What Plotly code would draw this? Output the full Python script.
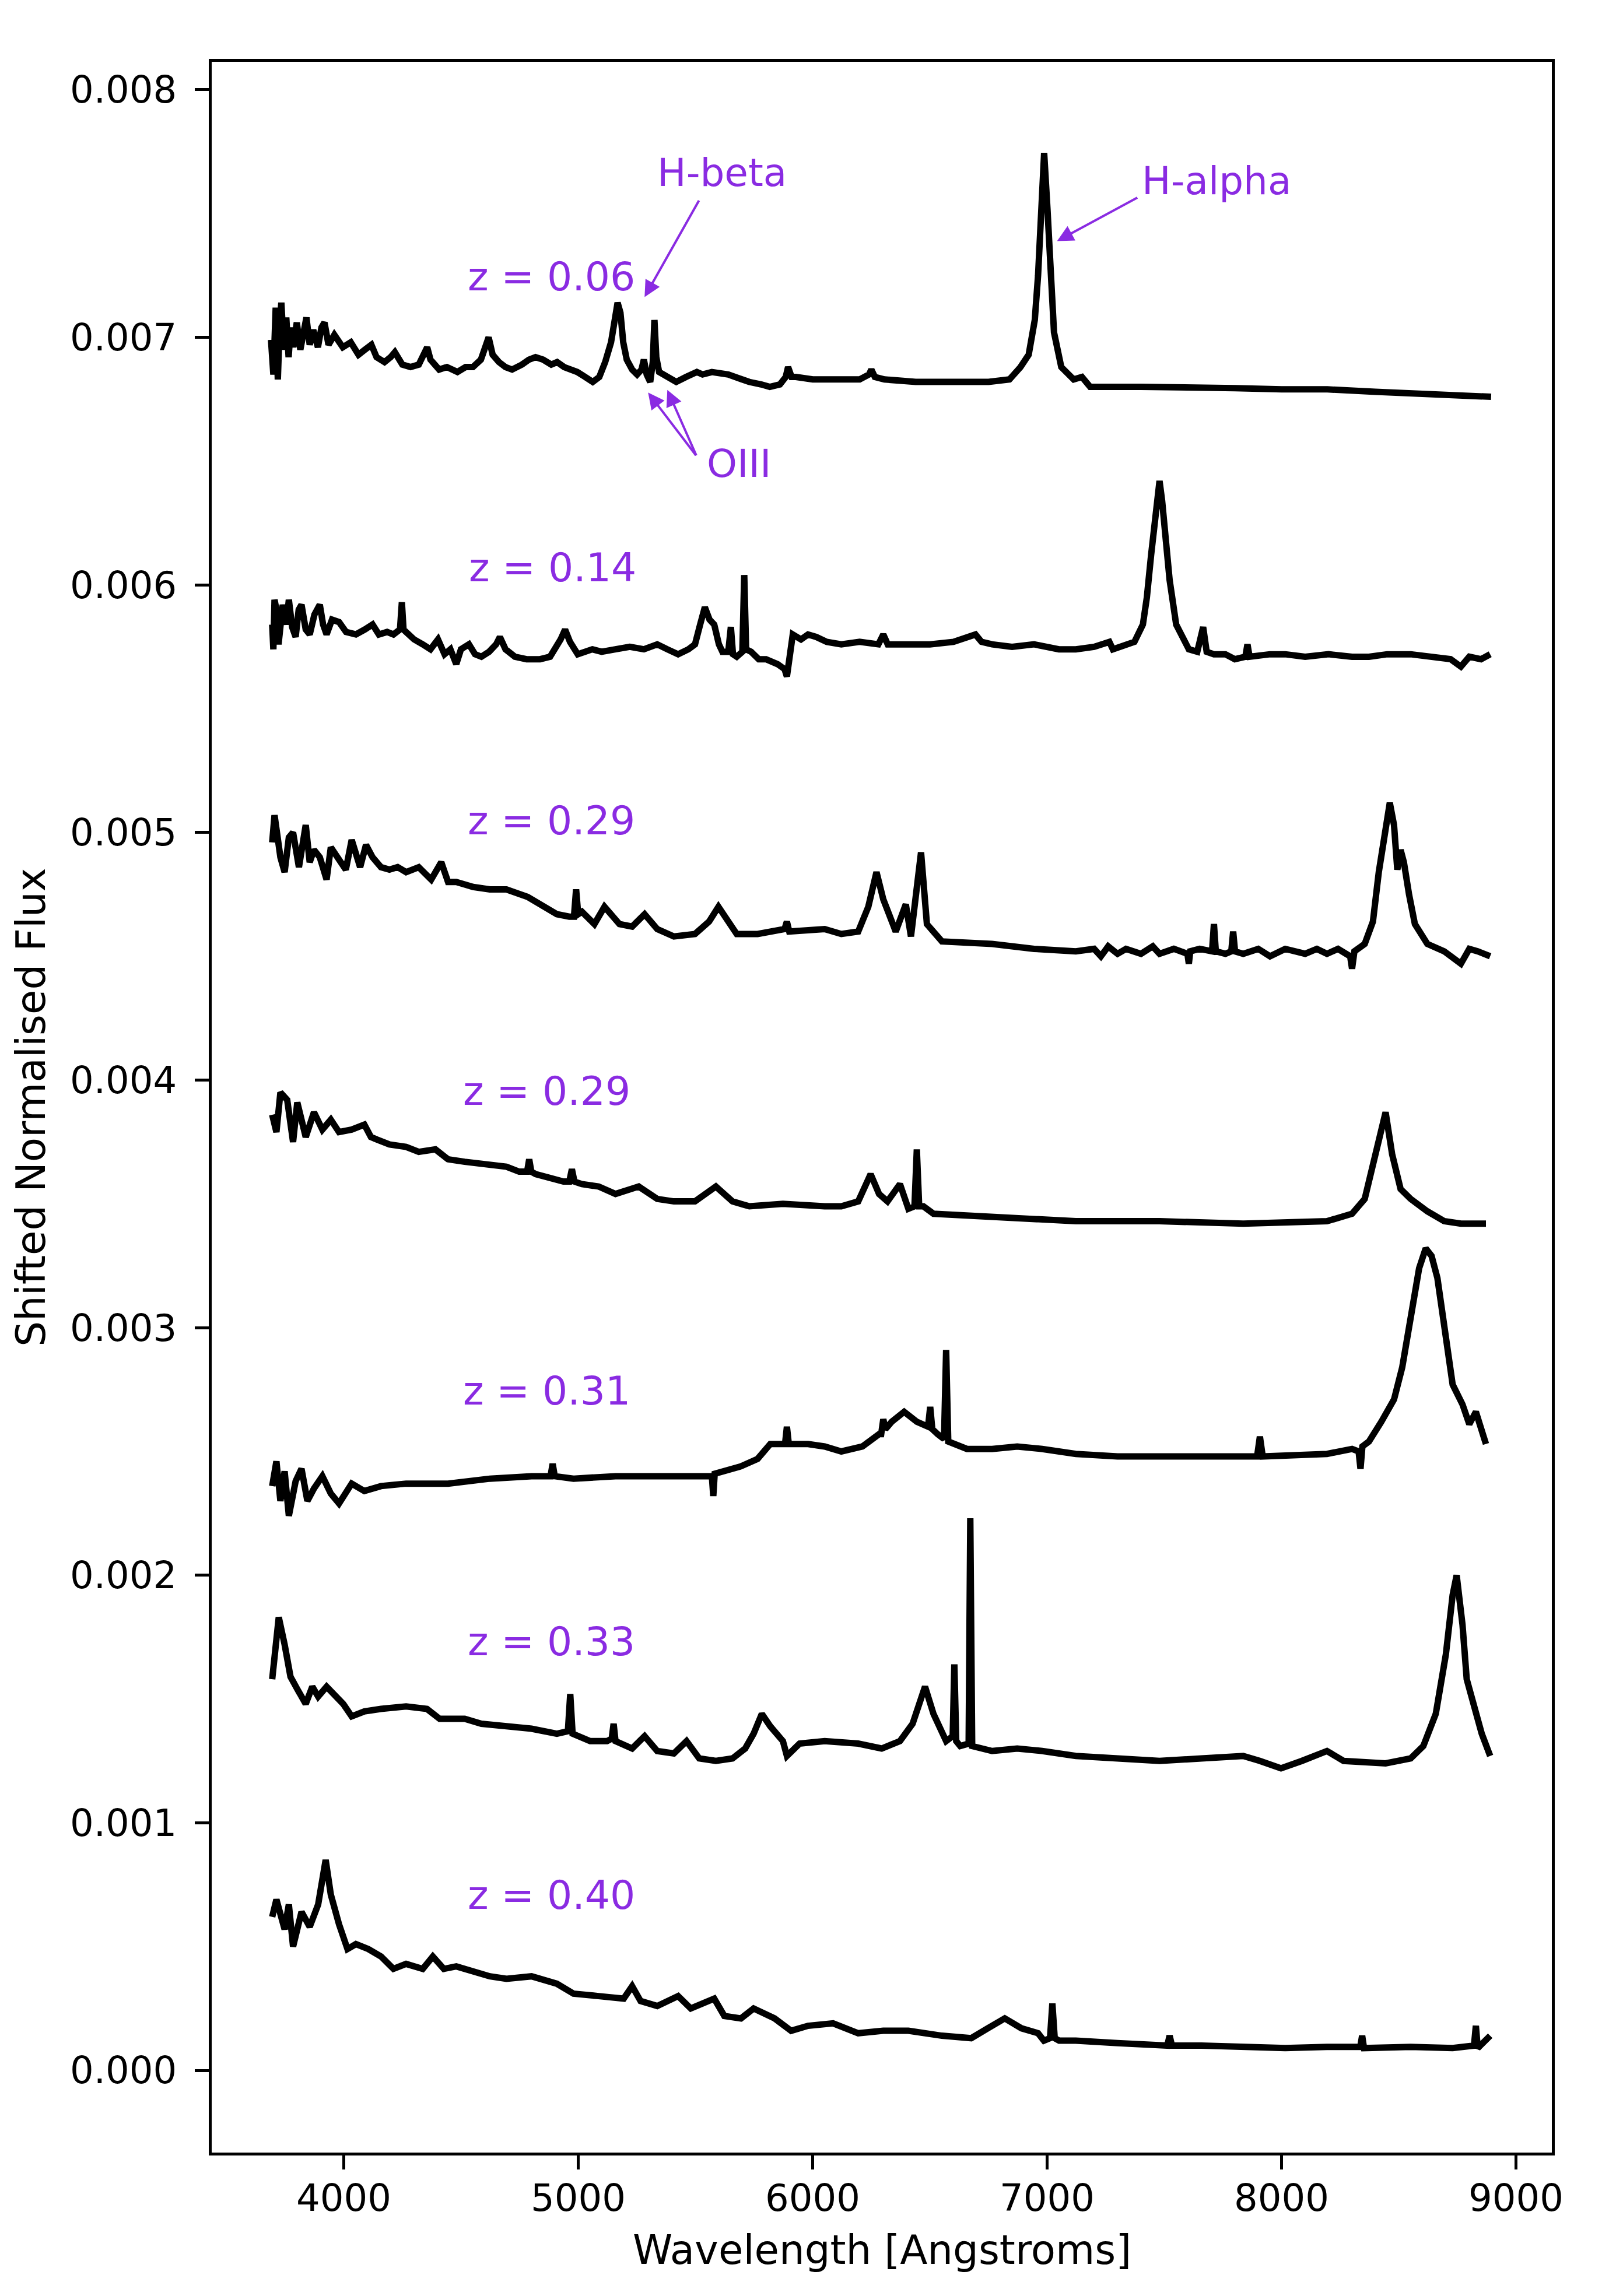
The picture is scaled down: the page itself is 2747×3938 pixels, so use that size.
import plotly.graph_objects as go

# ---------------- data ----------------
# each spectrum: list of (wavelength [Angstrom], shifted normalised flux)
spec_z006 = [
    (3690, 0.00699), (3700, 0.00685), (3710, 0.00712), (3719, 0.00683), (3727, 0.00705), (3734, 0.00714),
    (3745, 0.00695), (3755, 0.00708), (3765, 0.00692), (3774, 0.00704), (3785, 0.00696), (3800, 0.00706),
    (3815, 0.00695), (3830, 0.00705), (3841, 0.00708), (3855, 0.00697), (3870, 0.00703), (3890, 0.00696),
    (3905, 0.00704), (3918, 0.00706), (3935, 0.00697), (3960, 0.00701), (3996, 0.00696), (4030, 0.00698),
    (4063, 0.00693), (4090, 0.00695), (4118, 0.00697), (4140, 0.00692), (4174, 0.00690), (4200, 0.00692),
    (4218, 0.00694), (4250, 0.00689), (4285, 0.00688), (4320, 0.00689), (4345, 0.00693), (4356, 0.00696),
    (4370, 0.00691), (4407, 0.00687), (4440, 0.00688), (4485, 0.00686), (4520, 0.00688), (4551, 0.00688),
    (4585, 0.00691), (4605, 0.00696), (4618, 0.00700), (4635, 0.00693), (4662, 0.00690), (4690, 0.00688),
    (4718, 0.00687), (4760, 0.00689), (4790, 0.00691), (4818, 0.00692), (4850, 0.00691), (4885, 0.00689),
    (4910, 0.00690), (4940, 0.00688), (4970, 0.00687), (4996, 0.00686), (5030, 0.00684), (5062, 0.00682),
    (5090, 0.00684), (5115, 0.00690), (5140, 0.00698), (5155, 0.00708), (5168, 0.00714), (5180, 0.00710),
    (5192, 0.00698), (5207, 0.00691), (5230, 0.00687), (5251, 0.00685), (5270, 0.00687), (5280, 0.00691),
    (5292, 0.00685), (5307, 0.00682), (5318, 0.00690), (5325, 0.00707), (5333, 0.00692), (5345, 0.00686),
    (5362, 0.00685), (5390, 0.00683), (5418, 0.00682), (5460, 0.00684), (5506, 0.00686), (5530, 0.00685),
    (5570, 0.00686), (5640, 0.00685), (5690, 0.00683), (5729, 0.00682), (5780, 0.00681), (5817, 0.00680),
    (5860, 0.00681), (5885, 0.00684), (5895, 0.00688), (5910, 0.00684), (5928, 0.00684), (6000, 0.00683),
    (6106, 0.00683), (6200, 0.00683), (6240, 0.00685), (6250, 0.00687), (6265, 0.00684), (6306, 0.00683),
    (6439, 0.00682), (6600, 0.00682), (6750, 0.00682), (6839, 0.00683), (6886, 0.00688), (6921, 0.00693),
    (6947, 0.00707), (6961, 0.00725), (6973, 0.00752), (6987, 0.007745), (7001, 0.00752), (7013, 0.00725),
    (7029, 0.00702), (7060, 0.00688), (7113, 0.00683), (7148, 0.00684), (7183, 0.00680), (7400, 0.00680),
    (7584, 0.00680), (7800, 0.006795), (8000, 0.00679), (8195, 0.00679), (8400, 0.00678), (8600, 0.00677),
    (8893, 0.00676),
]

spec_z014 = [
    (3695, 0.00584), (3700, 0.00574), (3705, 0.00594), (3713, 0.00590), (3722, 0.00576), (3740, 0.00592),
    (3755, 0.00584), (3766, 0.00594), (3780, 0.00583), (3795, 0.00579), (3808, 0.00590), (3820, 0.00592),
    (3838, 0.00582), (3855, 0.00580), (3875, 0.00588), (3898, 0.00592), (3912, 0.00584), (3927, 0.00580),
    (3950, 0.00586), (3980, 0.00585), (4010, 0.00581), (4052, 0.00580), (4090, 0.00582), (4123, 0.00584),
    (4150, 0.00580), (4185, 0.00581), (4212, 0.00580), (4240, 0.00582), (4248, 0.00593), (4255, 0.00582),
    (4266, 0.00581), (4300, 0.00578), (4337, 0.00576), (4370, 0.00574), (4402, 0.00578), (4430, 0.00572),
    (4455, 0.00574), (4480, 0.00568), (4500, 0.00574), (4534, 0.00576), (4560, 0.00572), (4587, 0.00571),
    (4620, 0.00573), (4650, 0.00576), (4666, 0.00579), (4690, 0.00574), (4730, 0.00571), (4780, 0.00570),
    (4837, 0.00570), (4880, 0.00571), (4925, 0.00578), (4944, 0.00582), (4965, 0.00577), (4998, 0.00572),
    (5060, 0.00574), (5100, 0.00573), (5159, 0.00574), (5220, 0.00575), (5280, 0.00574), (5337, 0.00576),
    (5380, 0.00574), (5426, 0.00572), (5470, 0.00574), (5498, 0.00576), (5520, 0.00584), (5540, 0.00591),
    (5560, 0.00586), (5580, 0.00584), (5600, 0.00576), (5615, 0.00573), (5640, 0.00573), (5651, 0.00583),
    (5660, 0.00572), (5676, 0.00571), (5700, 0.00573), (5708, 0.00604), (5716, 0.00574), (5737, 0.00573),
    (5770, 0.00570), (5801, 0.00570), (5850, 0.00568), (5880, 0.00566), (5890, 0.00563), (5900, 0.00570),
    (5915, 0.00580), (5950, 0.00578), (5980, 0.00580), (6015, 0.00579), (6060, 0.00577), (6122, 0.00576),
    (6200, 0.00577), (6280, 0.00576), (6301, 0.00580), (6320, 0.00576), (6408, 0.00576), (6500, 0.00576),
    (6600, 0.00577), (6694, 0.00580), (6720, 0.00577), (6765, 0.00576), (6850, 0.00575), (6944, 0.00576),
    (7050, 0.00574), (7122, 0.00574), (7200, 0.00575), (7265, 0.00577), (7280, 0.00574), (7340, 0.00576),
    (7372, 0.00577), (7408, 0.00584), (7425, 0.00595), (7443, 0.00612), (7462, 0.00630), (7479, 0.00642),
    (7490, 0.00634), (7500, 0.00625), (7522, 0.00602), (7550, 0.00584), (7580, 0.00578), (7604, 0.00574),
    (7640, 0.00573), (7665, 0.00583), (7680, 0.00573), (7711, 0.00572), (7760, 0.00572), (7800, 0.00570),
    (7845, 0.00571), (7854, 0.00576), (7863, 0.00571), (7950, 0.00572), (8015, 0.00572), (8100, 0.00571),
    (8200, 0.00572), (8300, 0.00571), (8372, 0.00571), (8450, 0.00572), (8550, 0.00572), (8650, 0.00571),
    (8720, 0.00570), (8764, 0.00567), (8800, 0.00571), (8850, 0.00570), (8889, 0.00572),
]

spec_z029a = [
    (3695, 0.00496), (3705, 0.00507), (3730, 0.00490), (3748, 0.00484), (3766, 0.00498), (3784, 0.00500),
    (3809, 0.00486), (3838, 0.00503), (3855, 0.00488), (3873, 0.00493), (3898, 0.00490), (3927, 0.00481),
    (3945, 0.00494), (3980, 0.00489), (4009, 0.00485), (4034, 0.00497), (4070, 0.00486), (4095, 0.00495),
    (4123, 0.00490), (4159, 0.00486), (4195, 0.00485), (4230, 0.00486), (4266, 0.00484), (4320, 0.00486),
    (4373, 0.00481), (4416, 0.00488), (4445, 0.00480), (4480, 0.00480), (4552, 0.00478), (4623, 0.00477),
    (4694, 0.00477), (4784, 0.00474), (4855, 0.00470), (4909, 0.00467), (4962, 0.00466), (4982, 0.00466),
    (4991, 0.00477), (5000, 0.00467), (5016, 0.00468), (5069, 0.00463), (5112, 0.00470), (5176, 0.00463),
    (5230, 0.00462), (5283, 0.00467), (5337, 0.00461), (5408, 0.00458), (5498, 0.00459), (5558, 0.00464),
    (5598, 0.00470), (5630, 0.00465), (5676, 0.00459), (5765, 0.00459), (5880, 0.00461), (5890, 0.00464),
    (5900, 0.00460), (6051, 0.00461), (6122, 0.00459), (6194, 0.00460), (6237, 0.00470), (6272, 0.00484),
    (6301, 0.00473), (6354, 0.00460), (6397, 0.00471), (6419, 0.00458), (6462, 0.00492), (6487, 0.00463),
    (6551, 0.00456), (6765, 0.00455), (6944, 0.00453), (7122, 0.00452), (7200, 0.00453), (7229, 0.00450),
    (7260, 0.00454), (7300, 0.00451), (7336, 0.00453), (7400, 0.00451), (7450, 0.00454), (7479, 0.00451),
    (7540, 0.00453), (7598, 0.00451), (7604, 0.00447), (7610, 0.00452), (7650, 0.00453), (7703, 0.00452),
    (7711, 0.00463), (7719, 0.00452), (7760, 0.00451), (7785, 0.00452), (7793, 0.00460), (7801, 0.00452),
    (7836, 0.00451), (7900, 0.00453), (7950, 0.00450), (8015, 0.00453), (8100, 0.00451), (8150, 0.00453),
    (8193, 0.00451), (8240, 0.00453), (8292, 0.00450), (8300, 0.00445), (8310, 0.00452), (8354, 0.00455),
    (8389, 0.00464), (8414, 0.00484), (8440, 0.00500), (8461, 0.00512), (8479, 0.00503), (8493, 0.00485),
    (8507, 0.00493), (8521, 0.00488), (8543, 0.00475), (8568, 0.00463), (8621, 0.00455), (8693, 0.00452),
    (8764, 0.00447), (8800, 0.00453), (8836, 0.00452), (8889, 0.00450),
]

spec_z029b = [
    (3695, 0.00386), (3713, 0.00379), (3730, 0.00395), (3759, 0.00392), (3784, 0.00375), (3802, 0.00391),
    (3838, 0.00377), (3873, 0.00387), (3909, 0.00380), (3945, 0.00384), (3980, 0.00379), (4034, 0.00380),
    (4088, 0.00382), (4116, 0.00377), (4141, 0.00376), (4195, 0.00374), (4266, 0.00373), (4320, 0.00371),
    (4391, 0.00372), (4445, 0.00368), (4516, 0.00367), (4623, 0.00366), (4694, 0.00365), (4748, 0.00363),
    (4782, 0.00363), (4791, 0.00368), (4800, 0.00363), (4819, 0.00362), (4891, 0.00360), (4937, 0.00359),
    (4962, 0.00359), (4973, 0.00364), (4984, 0.00359), (5016, 0.00358), (5087, 0.00357), (5159, 0.00354),
    (5258, 0.00357), (5337, 0.00352), (5408, 0.00351), (5498, 0.00351), (5587, 0.00357), (5658, 0.00351),
    (5730, 0.00349), (5873, 0.00350), (6051, 0.00349), (6122, 0.00349), (6194, 0.00351), (6247, 0.00362),
    (6283, 0.00354), (6319, 0.00351), (6372, 0.00358), (6408, 0.00348), (6434, 0.00349), (6444, 0.00372),
    (6454, 0.00349), (6472, 0.00349), (6515, 0.00346), (6765, 0.00345), (7122, 0.00343), (7479, 0.00343),
    (7836, 0.00342), (8193, 0.00343), (8300, 0.00346), (8354, 0.00352), (8400, 0.00370), (8443, 0.00387),
    (8471, 0.00370), (8507, 0.00356), (8550, 0.00352), (8621, 0.00347), (8693, 0.00343), (8764, 0.00342),
    (8818, 0.00342), (8871, 0.00342),
]

spec_z031 = [
    (3695, 0.00236), (3713, 0.00246), (3730, 0.00230), (3748, 0.00242), (3766, 0.00224), (3795, 0.00238),
    (3820, 0.00243), (3845, 0.00230), (3873, 0.00235), (3909, 0.00240), (3945, 0.00233), (3980, 0.00229),
    (4034, 0.00237), (4088, 0.00234), (4159, 0.00236), (4266, 0.00237), (4445, 0.00237), (4623, 0.00239),
    (4801, 0.00240), (4882, 0.00240), (4891, 0.00245), (4900, 0.00240), (4980, 0.00239), (5159, 0.00240),
    (5337, 0.00240), (5516, 0.00240), (5570, 0.00240), (5576, 0.00232), (5582, 0.00241), (5694, 0.00244),
    (5765, 0.00247), (5819, 0.00253), (5873, 0.00253), (5882, 0.00253), (5890, 0.00260), (5898, 0.00253),
    (5980, 0.00253), (6051, 0.00252), (6122, 0.00250), (6212, 0.00252), (6283, 0.00257), (6292, 0.00257),
    (6301, 0.00263), (6310, 0.00259), (6337, 0.00262), (6390, 0.00266), (6444, 0.00262), (6492, 0.00260),
    (6501, 0.00268), (6510, 0.00259), (6533, 0.00257), (6560, 0.00255), (6569, 0.00291), (6578, 0.00254),
    (6658, 0.00251), (6765, 0.00251), (6872, 0.00252), (6979, 0.00251), (7122, 0.00249), (7300, 0.00248),
    (7479, 0.00248), (7658, 0.00248), (7895, 0.00248), (7907, 0.00256), (7919, 0.00248), (8193, 0.00249),
    (8300, 0.00251), (8328, 0.00250), (8336, 0.00243), (8344, 0.00252), (8372, 0.00254), (8425, 0.00262),
    (8479, 0.00271), (8514, 0.00284), (8550, 0.00305), (8586, 0.00324), (8614, 0.00332), (8639, 0.00329),
    (8664, 0.00320), (8693, 0.00300), (8729, 0.00277), (8771, 0.00269), (8800, 0.00261), (8828, 0.00266),
    (8871, 0.00253),
]

spec_z033 = [
    (3695, 0.00158), (3709, 0.00172), (3723, 0.00183), (3748, 0.00172), (3773, 0.00159), (3802, 0.00154),
    (3838, 0.00148), (3866, 0.00155), (3891, 0.00151), (3927, 0.00155), (3963, 0.00151), (3998, 0.00148),
    (4034, 0.00143), (4088, 0.00145), (4159, 0.00146), (4266, 0.00147), (4355, 0.00146), (4409, 0.00142),
    (4516, 0.00142), (4587, 0.00140), (4694, 0.00139), (4801, 0.00138), (4909, 0.00136), (4956, 0.00137),
    (4966, 0.00152), (4976, 0.00136), (5051, 0.00133), (5123, 0.00133), (5143, 0.00134), (5151, 0.00140),
    (5159, 0.00133), (5230, 0.00130), (5283, 0.00135), (5337, 0.00129), (5408, 0.00128), (5462, 0.00133),
    (5516, 0.00126), (5587, 0.00125), (5658, 0.00126), (5712, 0.00130), (5748, 0.00136), (5783, 0.00144),
    (5819, 0.00139), (5873, 0.00133), (5890, 0.00127), (5944, 0.00132), (6051, 0.00133), (6194, 0.00132),
    (6294, 0.00130), (6372, 0.00133), (6426, 0.00140), (6479, 0.00155), (6515, 0.00144), (6569, 0.00133),
    (6597, 0.00135), (6604, 0.00164), (6612, 0.00133), (6629, 0.00131), (6665, 0.00132), (6672, 0.00223),
    (6680, 0.00131), (6765, 0.00129), (6872, 0.00130), (6979, 0.00129), (7122, 0.00127), (7300, 0.00126),
    (7479, 0.00125), (7658, 0.00126), (7836, 0.00127), (7907, 0.00125), (7997, 0.00122), (8086, 0.00125),
    (8193, 0.00129), (8264, 0.00125), (8443, 0.00124), (8550, 0.00126), (8604, 0.00131), (8657, 0.00144),
    (8700, 0.00168), (8729, 0.00192), (8746, 0.00200), (8771, 0.00180), (8789, 0.00158), (8818, 0.00148),
    (8853, 0.00136), (8889, 0.00127),
]

spec_z040 = [
    (3695, 0.00062), (3713, 0.00069), (3748, 0.00057), (3766, 0.00067), (3784, 0.00050), (3820, 0.00064),
    (3855, 0.00058), (3891, 0.00067), (3923, 0.00085), (3945, 0.00071), (3980, 0.00059), (4016, 0.00049),
    (4052, 0.00051), (4105, 0.00049), (4159, 0.00046), (4212, 0.00041), (4266, 0.00043), (4337, 0.00041),
    (4380, 0.00046), (4427, 0.00041), (4480, 0.00042), (4552, 0.00040), (4623, 0.00038), (4694, 0.00037),
    (4801, 0.00038), (4909, 0.00035), (4980, 0.00031), (5087, 0.00030), (5194, 0.00029), (5230, 0.00034),
    (5266, 0.00028), (5337, 0.00026), (5426, 0.00030), (5480, 0.00025), (5580, 0.00029), (5623, 0.00022),
    (5694, 0.00021), (5748, 0.00025), (5837, 0.00021), (5908, 0.00016), (5980, 0.00018), (6087, 0.00019),
    (6194, 0.00015), (6301, 0.00016), (6408, 0.00016), (6551, 0.00014), (6676, 0.00013), (6747, 0.00017),
    (6819, 0.00021), (6890, 0.00017), (6961, 0.00015), (6986, 0.00012), (7012, 0.00013), (7022, 0.00027),
    (7032, 0.00013), (7051, 0.00012), (7122, 0.00012), (7300, 0.00011), (7479, 0.00010), (7512, 0.00010),
    (7522, 0.00014), (7532, 0.00010), (7658, 0.00010), (7836, 0.000095), (8015, 0.00009), (8193, 0.000095),
    (8335, 0.000095), (8343, 0.00014), (8351, 0.00009), (8550, 0.000095), (8729, 0.00009), (8820, 0.00010),
    (8828, 0.00018), (8836, 0.00009), (8889, 0.00014),
]

spectra = [spec_z006, spec_z014, spec_z029a, spec_z029b, spec_z031, spec_z033, spec_z040]

# redshift labels
z_labels = ["z = 0.06", "z = 0.14", "z = 0.29", "z = 0.29", "z = 0.31", "z = 0.33", "z = 0.40"]
z_label_x = [4885, 4890, 4885, 4865, 4865, 4885, 4885]
z_label_y = [0.007245, 0.00607, 0.005047, 0.003956, 0.002745, 0.001732, 0.000707]

# line identifications: text position, and arrows (tail -> tip)
line_names = ["H-beta", "H-alpha", "OIII"]
line_text_x = [5614, 7721, 5684]
line_text_y = [0.007665, 0.007632, 0.006489]
arrow_tail_x = [5517, 7388, 5505, 5505]
arrow_tail_y = [0.007556, 0.007566, 0.00652, 0.00652]
arrow_tip_x = [5283, 7042, 5298, 5380]
arrow_tip_y = [0.007163, 0.007389, 0.006777, 0.006788]

x_ticks = [4000, 5000, 6000, 7000, 8000, 9000]
x_tick_labels = ["4000", "5000", "6000", "7000", "8000", "9000"]
y_ticks = [0.000, 0.001, 0.002, 0.003, 0.004, 0.005, 0.006, 0.007, 0.008]
y_tick_labels = ["0.000", "0.001", "0.002", "0.003", "0.004", "0.005", "0.006", "0.007", "0.008"]

PURPLE = "#8A2BE2"
FONT = "DejaVu Sans"
FS_TICK = 64
FS_TITLE = 69
FS_Z = 68
FS_LINE = 66

fig = go.Figure()
for spec in spectra:
    w = [p[0] for p in spec]
    f = [p[1] for p in spec]
    fig.add_trace(go.Scatter(x=w, y=f, mode="lines",
                             line=dict(color="black", width=11),
                             showlegend=False, hoverinfo="skip"))

annotations = []
for t, x, y in zip(z_labels, z_label_x, z_label_y):
    annotations.append(dict(x=x, y=y, xref="x", yref="y", text=t, showarrow=False,
                            font=dict(family=FONT, size=FS_Z, color=PURPLE),
                            xanchor="center", yanchor="middle"))
for t, x, y in zip(line_names, line_text_x, line_text_y):
    annotations.append(dict(x=x, y=y, xref="x", yref="y", text=t, showarrow=False,
                            font=dict(family=FONT, size=FS_LINE, color=PURPLE),
                            xanchor="center", yanchor="middle"))
for tx, ty, hx, hy in zip(arrow_tail_x, arrow_tail_y, arrow_tip_x, arrow_tip_y):
    annotations.append(dict(x=hx, y=hy, ax=tx, ay=ty, xref="x", yref="y", axref="x", ayref="y",
                            text="", showarrow=True, arrowhead=2, arrowsize=1.4,
                            arrowwidth=4, arrowcolor=PURPLE, standoff=0, startstandoff=0))

# x tick labels (placed just below the tick marks)
for v, t in zip(x_ticks, x_tick_labels):
    annotations.append(dict(x=v, y=-0.0218, xref="x", yref="paper", text=t, showarrow=False,
                            font=dict(family=FONT, size=FS_TICK, color="black"),
                            xanchor="center", yanchor="middle"))

# axis titles
annotations.append(dict(x=0.5, y=-0.0466, xref="paper", yref="paper", text="Wavelength [Angstroms]",
                        showarrow=False, font=dict(family=FONT, size=FS_TITLE, color="black"),
                        xanchor="center", yanchor="middle"))
annotations.append(dict(x=-0.1350, y=0.5, xref="paper", yref="paper", text="Shifted Normalised Flux",
                        showarrow=False, textangle=-90, font=dict(family=FONT, size=FS_TITLE, color="black"),
                        xanchor="center", yanchor="middle"))

fig.update_layout(
    width=2747, height=3938,
    margin=dict(l=355, r=94, t=98, b=254),
    paper_bgcolor="white", plot_bgcolor="white",
    font=dict(family=FONT, size=FS_TICK, color="black"),
    annotations=annotations,
    showlegend=False,
)
fig.update_xaxes(range=[3437, 9152], tickvals=x_ticks, showticklabels=False,
                 showgrid=False, zeroline=False, showline=True, linecolor="black", linewidth=5,
                 mirror=True, ticks="outside", ticklen=24, tickwidth=5, tickcolor="black")
fig.update_yaxes(range=[-0.000332, 0.008113], tickvals=y_ticks, ticktext=y_tick_labels,
                 showgrid=False, zeroline=False, showline=True, linecolor="black", linewidth=5,
                 mirror=True, ticks="outside", ticklen=24, tickwidth=5, tickcolor="black",
                 tickfont=dict(family=FONT, size=FS_TICK, color="black"), ticklabelstandoff=18)

fig.write_html("out.html")
